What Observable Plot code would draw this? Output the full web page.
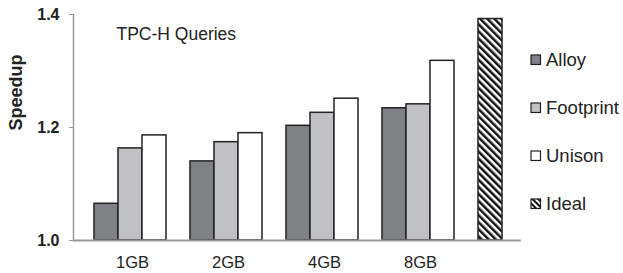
<!DOCTYPE html>
<html>
<head>
<meta charset="utf-8">
<script src="https://cdn.jsdelivr.net/npm/d3@7"></script>
<script src="https://cdn.jsdelivr.net/npm/@observablehq/plot@0.6"></script>
<style>
  html, body { margin: 0; padding: 0; background: #fff; }
  #wrap { position: relative; width: 623px; height: 273px; font-family: "Liberation Sans", Arial, sans-serif; color: #222; }
  #legend { position: absolute; left: 530px; top: 0; }
  .item { position: absolute; left: 0; display: flex; align-items: center; white-space: nowrap; font-size: 18.5px; line-height: 1; }
  .item svg { margin-right: 4px; display: block; }
</style>
</head>
<body>
<div id="wrap"><div id="chart"></div><div id="legend"></div></div>
<script>
// ---- data ----
const categories = ["1GB", "2GB", "4GB", "8GB"];
const series = ["Alloy", "Footprint", "Unison"];
const alloy = [1.065, 1.140, 1.203, 1.234];
const footprint = [1.163, 1.174, 1.226, 1.241];
const unison = [1.186, 1.190, 1.251, 1.318];
const idealLabel = "Ideal";
const idealValue = 1.392;
const yTicks = [1.0, 1.2, 1.4];
const title = "TPC-H Queries";
const yLabel = "Speedup";

// ---- styles ----
const colors = {Alloy: "#808184", Footprint: "#c0c1c3", Unison: "#ffffff", Ideal: "url(#hatch)"};

// ---- build rows (slot = position in band scale; one empty slot between groups) ----
const perGroup = series.length + 1;
const valuesBySeries = [alloy, footprint, unison];
const rows = [];
categories.forEach((c, ci) => {
  series.forEach((s, si) => {
    rows.push({slot: ci * perGroup + si, category: c, series: s, value: valuesBySeries[si][ci]});
  });
});
rows.push({slot: categories.length * perGroup, category: "", series: idealLabel, value: idealValue});
const slots = d3.range(categories.length * perGroup + 1);
const labelSlots = categories.map((c, ci) => ci * perGroup + 1);

function hatchDefs(id, size) {
  const ns = "http://www.w3.org/2000/svg";
  const defs = document.createElementNS(ns, "defs");
  const p = document.createElementNS(ns, "pattern");
  p.setAttribute("id", id);
  p.setAttribute("patternUnits", "userSpaceOnUse");
  p.setAttribute("width", size);
  p.setAttribute("height", size);
  p.setAttribute("patternTransform", "rotate(-45)");
  const r1 = document.createElementNS(ns, "rect");
  r1.setAttribute("width", size); r1.setAttribute("height", size); r1.setAttribute("fill", "#fff");
  const r2 = document.createElementNS(ns, "rect");
  r2.setAttribute("width", size / 2); r2.setAttribute("height", size); r2.setAttribute("fill", "#111");
  p.appendChild(r1); p.appendChild(r2);
  defs.appendChild(p);
  return defs;
}

const chart = Plot.plot({
  width: 623,
  height: 273,
  marginLeft: 73,
  marginRight: 102,
  marginTop: 14,
  marginBottom: 33,
  style: {fontFamily: "Liberation Sans, Arial, sans-serif", color: "#222", background: "#fff", overflow: "visible"},
  x: {type: "band", domain: slots, paddingInner: 0, paddingOuter: 0.78, align: 0.53},
  y: {domain: [yTicks[0], yTicks[yTicks.length - 1]]},
  color: {type: "ordinal", domain: [...series, idealLabel], range: [...series, idealLabel].map(s => colors[s])},
  marks: [
    () => { const g = document.createElementNS("http://www.w3.org/2000/svg", "g"); g.appendChild(hatchDefs("hatch", 5)); return g; },
    Plot.barY(rows, {x: "slot", y1: yTicks[0], y2: "value", fill: "series", stroke: "#222", strokeWidth: 1.5, inset: 0}),
    Plot.ruleY([yTicks[0]], {stroke: "#999", strokeWidth: 2}),
    Plot.frame({anchor: "left", stroke: "#999", strokeWidth: 1.5}),
    Plot.axisY({ticks: yTicks, tickFormat: d3.format(".1f"), tickSize: 4, tickPadding: 10, fontSize: 16, fontWeight: "bold", stroke: "#999", label: null}),
    Plot.axisX({ticks: labelSlots, tickFormat: s => categories[(s - 1) / perGroup], tickSize: 0, tickPadding: 16, fontSize: 16.5, dx: 2, label: null}),
    Plot.text([title], {frameAnchor: "top-left", dx: 43, dy: 13.5, lineAnchor: "top", textAnchor: "start", fontSize: 17.5, fill: "#222"}),
    Plot.text([yLabel], {frameAnchor: "left", dx: -57, dy: 3, rotate: -90, fontSize: 18, fontWeight: "bold", fill: "#222"})
  ]
});
document.getElementById("chart").appendChild(chart);

// ---- legend (HTML) ----
const legend = document.getElementById("legend");
const legendItems = [...series, idealLabel];
legendItems.forEach((s, i) => {
  const item = document.createElement("div");
  item.className = "item";
  item.style.top = (51 + i * 48) + "px";
  const ns = "http://www.w3.org/2000/svg";
  const sw = document.createElementNS(ns, "svg");
  sw.setAttribute("width", 12); sw.setAttribute("height", 12);
  if (s === idealLabel) sw.appendChild(hatchDefs("hatchLegend", 4));
  const r = document.createElementNS(ns, "rect");
  r.setAttribute("x", 1); r.setAttribute("y", 1); r.setAttribute("width", 9.5); r.setAttribute("height", 9.5);
  r.setAttribute("fill", s === idealLabel ? "url(#hatchLegend)" : colors[s]);
  r.setAttribute("stroke", "#222"); r.setAttribute("stroke-width", 1.2);
  sw.appendChild(r);
  item.appendChild(sw);
  const t = document.createElement("span");
  t.textContent = s;
  item.appendChild(t);
  legend.appendChild(item);
});
</script>
</body>
</html>
